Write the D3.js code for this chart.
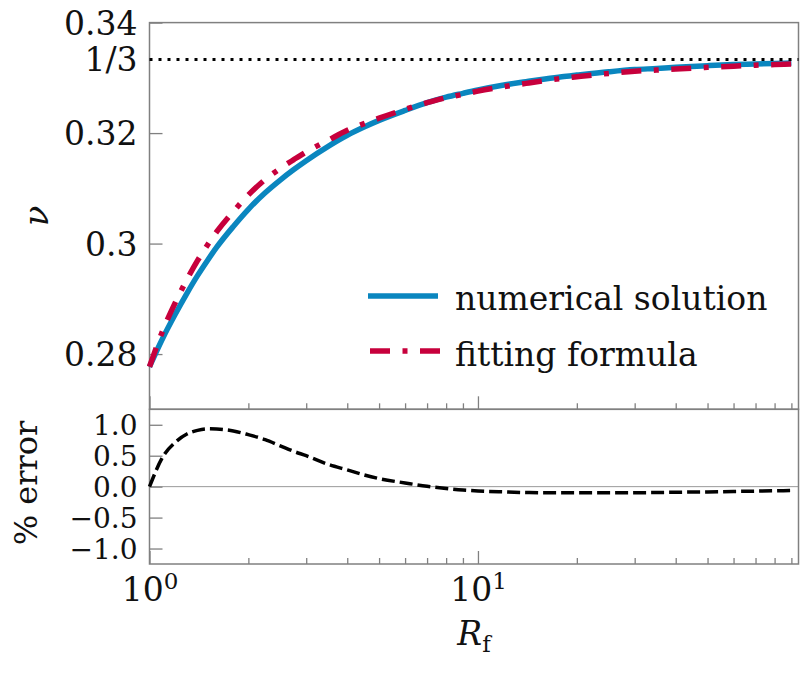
<!DOCTYPE html>
<html>
<head>
<script src="https://cdn.jsdelivr.net/npm/d3@7"></script>
<style>
  body { margin: 0; background: #fff; }
  svg text { font-family: "DejaVu Serif", serif; fill: #111; }
</style>
</head>
<body>
<div id="viz"></div>
<script>
// values
var rf = [1, 1.1, 1.2, 1.3, 1.4, 1.5, 1.6, 1.8, 2, 2.25, 2.5, 2.75, 3, 3.5, 4, 4.5, 5, 6, 7, 8, 9,
          10, 12, 14, 16, 18, 20, 25, 30, 35, 40, 50, 60, 70, 80, 90];
var nuNumerical = [0.2777, 0.2830, 0.2873, 0.2910, 0.2942, 0.2969, 0.2993, 0.3031, 0.3062, 0.3092,
                   0.3115, 0.3134, 0.3150, 0.3176, 0.3196, 0.3211, 0.3223, 0.3241, 0.3255, 0.3265,
                   0.3272, 0.3278, 0.3287, 0.3293, 0.3298, 0.3302, 0.3305, 0.3311, 0.3315, 0.3317,
                   0.3319, 0.3322, 0.3324, 0.3325, 0.3326, 0.3327];
var nuFitting = [0.2777, 0.2844, 0.2894, 0.2935, 0.2969, 0.2997, 0.3021, 0.3058, 0.3088, 0.3116,
                 0.3136, 0.3152, 0.3166, 0.3187, 0.3205, 0.3217, 0.3227, 0.3243, 0.3255, 0.3264,
                 0.3270, 0.3276, 0.3284, 0.3290, 0.3295, 0.3299, 0.3302, 0.3308, 0.3312, 0.3314,
                 0.3316, 0.3319, 0.3321, 0.3323, 0.3324, 0.3325];
var errorPct = [0, 0.49, 0.72, 0.85, 0.91, 0.935, 0.93, 0.90, 0.84, 0.76, 0.66, 0.57, 0.50, 0.36,
                0.27, 0.19, 0.13, 0.06, 0.005, -0.03, -0.055, -0.07, -0.085, -0.095, -0.10, -0.10,
                -0.10, -0.10, -0.098, -0.095, -0.09, -0.085, -0.078, -0.072, -0.067, -0.062];
var nuTicks = [0.28, 0.3, 0.32, 0.34];
var nuTickLabels = ["0.28", "0.3", "0.32", "0.34"];
var errTicks = [-1, -0.5, 0, 0.5, 1];
var errTickLabels = ["\u22121.0", "\u22120.5", "0.0", "0.5", "1.0"];
var xMajor = [1, 10];
var xMajorExp = ["0", "1"];
var xMinor = [2, 3, 4, 5, 6, 7, 8, 9, 20, 30, 40, 50, 60, 70, 80, 90];
var seriesNames = ["numerical solution", "fitting formula"];

var blue = "#0a86bf", red = "#c7003c", frame = "#808080";
var left = 149.5, right = 798.5, top1 = 22.6, mid = 409.3, bot2 = 564;

var svg = d3.select("#viz").append("svg")
    .attr("width", 808)
    .attr("height", 674);

var x = d3.scaleLog().domain([1, 94.6]).range([left, right]);
var yTop = d3.scaleLinear().domain([0.27, 0.34]).range([mid, top1]);
var yBot = d3.scaleLinear().domain([-1.25, 1.25]).range([bot2, mid]);

// zero line in error panel
svg.append("line")
    .attr("x1", left).attr("x2", right)
    .attr("y1", yBot(0)).attr("y2", yBot(0))
    .style("stroke", "#999").style("stroke-width", 1);

function styleAxis(g, size) {
    g.attr("font-family", null).attr("font-size", null);
    g.select(".domain").remove();
    g.selectAll(".tick line").style("stroke", frame).style("stroke-width", 1.3);
    g.selectAll(".tick text").style("font-size", size + "px").style("fill", "#111");
}

// left axis of top panel
var gTop = svg.append("g").attr("transform", "translate(" + left + ",0)")
    .call(d3.axisLeft(yTop).tickValues(nuTicks).tickSize(-13).tickPadding(12)
        .tickFormat(function(d, i) { return nuTickLabels[i]; }));
styleAxis(gTop, 33);
gTop.selectAll(".tick text").attr("dy", "0.36em");

// 1/3 label
svg.append("text")
    .attr("x", left - 12).attr("y", yTop(1 / 3)).attr("dy", "0.36em")
    .attr("text-anchor", "end").style("font-size", "33px")
    .text("1/3");

// left axis of error panel
var gBot = svg.append("g").attr("transform", "translate(" + left + ",0)")
    .call(d3.axisLeft(yBot).tickValues(errTicks).tickSize(-13).tickPadding(12)
        .tickFormat(function(d, i) { return errTickLabels[i]; }));
styleAxis(gBot, 28);
gBot.selectAll(".tick text").attr("dy", "0.36em");

// x ticks on both panels (pointing inward)
[mid, bot2].forEach(function(yy, k) {
    var gMin = svg.append("g").attr("transform", "translate(0," + yy + ")")
        .call(d3.axisBottom(x).tickValues(xMinor).tickSize(-6).tickFormat(""));
    styleAxis(gMin, 33);
    var gMaj = svg.append("g").attr("transform", "translate(0," + yy + ")")
        .call(d3.axisBottom(x).tickValues(xMajor).tickSize(-13).tickPadding(14)
            .tickFormat(function() { return ""; }));
    styleAxis(gMaj, 33);
    if (k == 1) {
        gMaj.selectAll(".tick text").each(function(d, i) {
            var t = d3.select(this).attr("dy", "0.71em");
            t.append("tspan").text("10");
            t.append("tspan").attr("dy", -12).style("font-size", "23px").text(xMajorExp[i]);
        });
    }
});

// frames
svg.append("rect").attr("x", left).attr("y", top1)
    .attr("width", right - left).attr("height", mid - top1)
    .style("fill", "none").style("stroke", frame).style("stroke-width", 1.5);
svg.append("rect").attr("x", left).attr("y", mid)
    .attr("width", right - left).attr("height", bot2 - mid)
    .style("fill", "none").style("stroke", frame).style("stroke-width", 1.5);

// curves
var lineTop = function(vals) {
    return d3.line()
        .x(function(d, i) { return x(rf[i]); })
        .y(function(d) { return yTop(d); })
        .curve(d3.curveMonotoneX)(vals);
};

svg.append("path").attr("d", lineTop(nuNumerical))
    .style("fill", "none").style("stroke", blue).style("stroke-width", 5.5);
svg.append("path").attr("d", lineTop(nuFitting))
    .style("fill", "none").style("stroke", red).style("stroke-width", 5.5)
    .style("stroke-dasharray", "20,12.5,5,12.5");

// 1/3 asymptote
svg.append("line")
    .attr("x1", left).attr("x2", right)
    .attr("y1", yTop(1 / 3)).attr("y2", yTop(1 / 3))
    .style("stroke", "#000").style("stroke-width", 3)
    .style("stroke-dasharray", "3,6");

// error curve
svg.append("path")
    .attr("d", d3.line()
        .x(function(d, i) { return x(rf[i]); })
        .y(function(d) { return yBot(d); })
        .curve(d3.curveMonotoneX)(errorPct))
    .style("fill", "none").style("stroke", "#000").style("stroke-width", 3.5)
    .style("stroke-dasharray", "13,5");

// legend
var legend = svg.append("g");
legend.append("line").attr("x1", 368).attr("x2", 438).attr("y1", 296).attr("y2", 296)
    .style("stroke", blue).style("stroke-width", 5.5);
legend.append("line").attr("x1", 370).attr("x2", 440).attr("y1", 351).attr("y2", 351)
    .style("stroke", red).style("stroke-width", 5.5)
    .style("stroke-dasharray", "20,12.5,5,12.5");
legend.selectAll("text.lab").data(seriesNames).enter().append("text")
    .attr("class", "lab")
    .attr("x", 455)
    .attr("y", function(d, i) { return i == 0 ? 310 : 366; })
    .style("font-size", "33px")
    .text(function(d) { return d; });

// axis titles
svg.append("text")
    .attr("transform", "translate(48,216) rotate(-90)")
    .attr("text-anchor", "middle")
    .style("font-size", "34px").style("font-style", "italic")
    .text("\u03bd");
svg.append("text")
    .attr("transform", "translate(37,483) rotate(-90)")
    .attr("text-anchor", "middle")
    .style("font-size", "32px")
    .text("% error");
var xt = svg.append("text")
    .attr("x", (left + right) / 2).attr("y", 645)
    .attr("text-anchor", "middle")
    .style("font-size", "33px");
xt.append("tspan").style("font-style", "italic").text("R");
xt.append("tspan").attr("dy", 7).style("font-size", "23px").text("f");
</script>
</body>
</html>
